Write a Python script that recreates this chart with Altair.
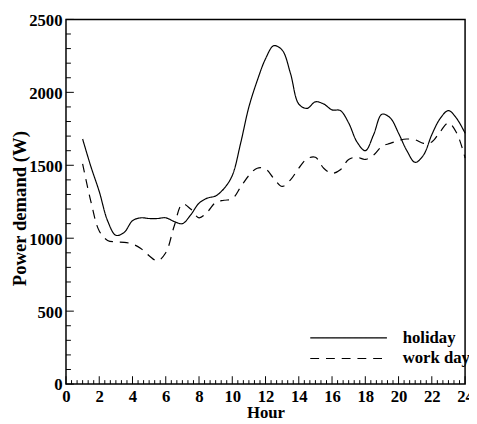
import altair as alt
import pandas as pd
import numpy as np

hours = [1, 1.5, 2, 2.5, 3, 3.5, 4, 4.5, 5, 5.5, 6, 6.5, 7, 7.5, 8, 8.5, 9, 9.5,
         10, 10.5, 11, 11.5, 12, 12.5, 13, 13.5, 14, 14.5, 15, 15.5, 16, 16.5,
         17, 17.5, 18, 18.5, 19, 19.5, 20, 20.5, 21, 21.5, 22, 22.5, 23, 23.5, 24]

holiday = [1680, 1490, 1320, 1120, 1020, 1040, 1120, 1140, 1135, 1135, 1140, 1115,
           1100, 1160, 1240, 1275, 1290, 1340, 1430, 1650, 1900, 2080, 2230, 2320,
           2290, 2130, 1920, 1890, 1935, 1920, 1880, 1875, 1790, 1660, 1600, 1710,
           1850, 1825, 1720, 1600, 1520, 1570, 1710, 1820, 1875, 1820, 1720]

work_day = [1510, 1250, 1050, 985, 975, 972, 960, 930, 880, 845, 900, 1080,
            1235, 1200, 1140, 1180, 1245, 1260, 1270, 1350, 1430, 1480, 1475, 1410,
            1355, 1400, 1480, 1545, 1555, 1480, 1445, 1470, 1540, 1555, 1540, 1570,
            1630, 1650, 1670, 1680, 1675, 1650, 1660, 1730, 1790, 1720, 1550]

series_names = ["holiday", "work day"]
x_major = list(range(0, 25, 2))
y_major = list(range(0, 2501, 500))

W, H = 406, 371
FONT = "Liberation Serif"

df = pd.DataFrame({
    "hour": hours * 2,
    "power": holiday + work_day,
    "series": [series_names[0]] * len(hours) + [series_names[1]] * len(hours),
})

x_minor = [v for v in np.round(np.arange(0, 24.001, 1 / 3), 4) if min(abs(v - m) for m in x_major) > 1e-3]
y_minor = [v for v in range(0, 2501, 100) if v % 500 != 0]

x_scale = alt.Scale(domain=[0, 24], nice=False, zero=False)
y_scale = alt.Scale(domain=[0, 2500], nice=False)

x_axis = alt.Axis(values=x_major, ticks=False, domain=False, grid=False, format="d",
                  labelFont=FONT, labelFontSize=17, labelFontWeight="bold", labelColor="black",
                  labelPadding=5, labelFlush=False, labelOverlap=False,
                  title="Hour", titleFont=FONT, titleFontSize=17, titleFontWeight="bold",
                  titleColor="black", titleY=34, titleBaseline="alphabetic")
y_axis = alt.Axis(values=y_major, ticks=False, domain=False, grid=False, format="d",
                  labelFont=FONT, labelFontSize=17, labelFontWeight="bold", labelColor="black",
                  labelPadding=4, labelFlush=False, labelOverlap=False, labelOffset=1,
                  title="Power demand (W)", titleFont=FONT, titleFontSize=19,
                  titleFontWeight="bold", titleColor="black",
                  titleX=-47, titleY=192, titleBaseline="middle", titleAlign="center",
                  titleAngle=270)

lines = alt.Chart(df).mark_line(color="black", strokeWidth=1.2, interpolate="catmull-rom").encode(
    x=alt.X("hour:Q", scale=x_scale, axis=x_axis),
    y=alt.Y("power:Q", scale=y_scale, axis=y_axis),
    strokeDash=alt.StrokeDash("series:N",
                              scale=alt.Scale(domain=series_names, range=[[1, 0], [9, 7]]),
                              legend=alt.Legend(orient="none", legendX=247.5, legendY=314,
                                                title=None, symbolType="stroke", symbolSize=6084,
                                                symbolStrokeWidth=1.2, symbolStrokeColor="black",
                                                clipHeight=20, rowPadding=1, labelOffset=15,
                                                labelFont=FONT, labelFontSize=17,
                                                labelFontWeight="bold", labelColor="black",
                                                padding=0)),
)

ytm = alt.Chart(pd.DataFrame({"power": y_major})).mark_rule(color="black", strokeWidth=1).encode(
    y=alt.Y("power:Q", scale=y_scale, axis=y_axis), x=alt.value(0), x2=alt.value(8))
ytn = alt.Chart(pd.DataFrame({"power": y_minor})).mark_rule(color="black", strokeWidth=1).encode(
    y=alt.Y("power:Q", scale=y_scale, axis=y_axis), x=alt.value(0), x2=alt.value(5))
xtm = alt.Chart(pd.DataFrame({"hour": x_major})).mark_rule(color="black", strokeWidth=1).encode(
    x=alt.X("hour:Q", scale=x_scale, axis=x_axis), y=alt.value(H), y2=alt.value(H - 8))
xtn = alt.Chart(pd.DataFrame({"hour": x_minor})).mark_rule(color="black", strokeWidth=1).encode(
    x=alt.X("hour:Q", scale=x_scale, axis=x_axis), y=alt.value(H), y2=alt.value(H - 4))

chart = alt.layer(lines, ytm, ytn, xtm, xtn).properties(
    width=W, height=H,
    autosize=alt.AutoSizeParams(type="none"),
    padding={"left": 59, "top": 8, "right": 4, "bottom": 37},
    background="white",
).configure_view(stroke="black", strokeWidth=1.5)

chart.save("out.html", embed_options={"renderer": "svg", "actions": False})
